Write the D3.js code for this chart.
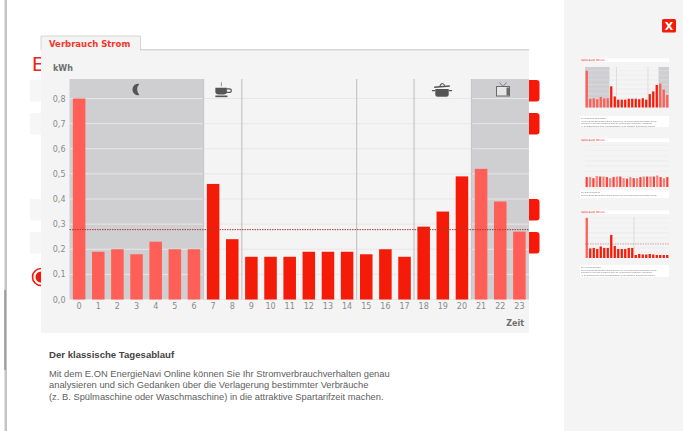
<!DOCTYPE html>
<html lang="de">
<head>
<meta charset="utf-8">
<title>Verbrauch Strom</title>
<script src="https://cdn.jsdelivr.net/npm/d3@7/dist/d3.min.js"></script>
<style>
html,body{margin:0;padding:0;background:#fff;overflow:hidden}
svg{display:block}
text{font-family:"DejaVu Sans",sans-serif}
.copy{font-family:"Liberation Sans",Arial,sans-serif}
</style>
</head>
<body>
<svg id="chart" width="683" height="431"></svg>
<script>
// Hourly electricity use, one typical day
const hours = d3.range(24);
const dayValues = [0.8,0.19,0.2,0.18,0.23,0.2,0.2,0.46,0.24,0.17,0.17,0.17,0.19,0.19,0.19,0.18,0.2,0.17,0.29,0.35,0.49,0.52,0.39,0.27];
const averageValue = 0.278;
const yTicks = [0,0.1,0.2,0.3,0.4,0.5,0.6,0.7,0.8];
const nightHours = [0,1,2,3,4,5,6,21,22,23];
const dividerHours = [7,9,15,18,21];

// Sidebar previews
const flatValues = [0.19,0.19,0.17,0.21,0.2,0.2,0.19,0.17,0.19,0.2,0.2,0.17,0.16,0.19,0.17,0.17,0.19,0.2,0.2,0.2,0.2,0.22,0.19,0.17,0.19];
const weekendValues = [0.8,0.19,0.2,0.18,0.23,0.2,0.2,0.46,0.24,0.18,0.18,0.18,0.2,0.2,0.06,0.08,0.07,0.07,0.08,0.07,0.06,0.06,0.06,0.06];

const headline = "Der klassische Tagesablauf";
const bodyLines = [
  "Mit dem E.ON EnergieNavi Online können Sie Ihr Stromverbrauchverhalten genau",
  "analysieren und sich Gedanken über die Verlagerung bestimmter Verbräuche",
  "(z. B. Spülmaschine oder Waschmaschine) in die attraktive Spartarifzeit machen."
];

const RED = "#f41c08", LIGHT_RED = "#ff5f57", NIGHT = "#cfcfd2", PANEL = "#f4f4f4", GRID = "#e7e7e8";
const isNight = h => nightHours.includes(h);
const svg = d3.select("#chart");

const rect = (p, x, y, w, h, fill, rx) => p.append("rect")
  .attr("x", x).attr("y", y).attr("width", w).attr("height", h).attr("fill", fill).attr("rx", rx || 0);

// Page frame and the sidebar
rect(svg, 4.5, 0, 2.5, 431, "#c4c4c4");
rect(svg, 4.5, 290, 1, 80, "#777");
rect(svg, 564, 0, 119, 431, "#f4f4f4");

// Page content behind the overlay
svg.append("text").attr("x", 32).attr("y", 71).attr("fill", "#f2231a")
  .attr("font-size", 21).style("font-family", "Liberation Sans").text("E");
[80, 113, 199, 232].forEach(y => {
  rect(svg, 30, y, 12, 21.5, "#f6f6f6");
  rect(svg, 520, y, 19.5, 21.5, "#f8180a", 3);
});
svg.append("circle").attr("cx", 41).attr("cy", 277).attr("r", 8.5)
  .attr("fill", "#fff").attr("stroke", "#f01a0a").attr("stroke-width", 1.6);
svg.append("circle").attr("cx", 41).attr("cy", 277).attr("r", 5.5).attr("fill", "#f01a0a");

// Close button
rect(svg, 662, 19, 14, 13.5, "#f41c08", 1.5);
svg.append("text").attr("x", 669).attr("y", 30).attr("text-anchor", "middle")
  .attr("fill", "#fff").attr("font-size", 11).attr("font-weight", 700).text("X");

// Main panel with its tab
rect(svg, 41, 50, 488, 283, PANEL);
rect(svg, 41, 49, 488, 1.5, "#d6d6d6");
svg.append("path").attr("d", "M41 50V36H140.5V50").attr("fill", PANEL).attr("stroke", "#d6d6d6").attr("stroke-width", 1);
rect(svg, 41.5, 48, 98.5, 3, PANEL);
svg.append("text").attr("x", 49).attr("y", 47).attr("fill", "#f5352a")
  .attr("font-size", 8.5).attr("font-weight", 700).text("Verbrauch Strom");

// Draws one hourly bar chart; the large chart and the previews share this
function barChart(parent, box, values, opts) {
  const x = d3.scaleBand().domain(values.map((_, i) => i)).range([box.left, box.right]).paddingInner(0.345).paddingOuter(0.175);
  const y = d3.scaleLinear().domain([0, opts.max]).range([box.bottom, box.bottom - (box.bottom - box.top) * opts.scaleShare]);
  const g = parent.append("g");
  const edge = i => box.left + x.step() * i;

  rect(g, box.left, box.top, box.right - box.left, box.bottom - box.top, opts.plotFill || PANEL);

  (opts.nightBands || []).forEach(([a, b]) => {
    rect(g, edge(a), box.top, edge(b) - edge(a), box.bottom - box.top, NIGHT);
  });

  g.append("g").selectAll("line").data(opts.ticks).join("line")
    .attr("x1", box.left).attr("x2", box.right)
    .attr("y1", d => y(d)).attr("y2", d => y(d))
    .attr("stroke", GRID).attr("stroke-width", opts.gridWidth);

  g.append("g").selectAll("line").data(opts.dividers || []).join("line")
    .attr("x1", d => edge(d)).attr("x2", d => edge(d))
    .attr("y1", box.top).attr("y2", box.bottom)
    .attr("stroke", "#c8c8c8").attr("stroke-width", opts.gridWidth * 1.3);

  g.append("g").selectAll("rect").data(values).join("rect")
    .attr("x", (_, i) => x(i)).attr("width", x.bandwidth())
    .attr("y", d => y(d)).attr("height", d => y(0) - y(d))
    .attr("fill", (d, i) => opts.colour(i));

  if (opts.average !== undefined) {
    g.append("line").attr("x1", box.left).attr("x2", box.right)
      .attr("y1", y(opts.average)).attr("y2", y(opts.average))
      .attr("stroke", "#a83838").attr("stroke-width", opts.gridWidth).attr("stroke-dasharray", "1.5 1");
  }
  return { x, y, g };
}

const nightBands = [[0, 7], [21, 24]];
const box = { left: 69.5, right: 529, top: 79, bottom: 299.5 };
const main = barChart(svg, box, dayValues, {
  max: 0.8, scaleShare: (299.5 - 98.5) / (299.5 - 79), ticks: yTicks,
  nightBands, dividers: dividerHours, gridWidth: 1, average: averageValue,
  colour: h => isNight(h) ? LIGHT_RED : RED
});

// Axes
const yAxis = d3.axisLeft(main.y).tickValues(yTicks).tickSize(0).tickPadding(4)
  .tickFormat(d => d3.format(".1f")(d).replace(".", ","));
svg.append("g").attr("transform", `translate(${box.left},0)`).call(yAxis)
  .call(a => a.select(".domain").remove())
  .call(a => a.selectAll("text").attr("fill", "#8a8a8a").attr("font-size", 8).style("font-family", "DejaVu Sans"));

const xAxis = d3.axisBottom(main.x).tickValues(hours).tickSize(0).tickPadding(4);
svg.append("g").attr("transform", `translate(0,${box.bottom})`).call(xAxis)
  .call(a => a.select(".domain").remove())
  .call(a => a.selectAll("text").attr("fill", "#8a8a8a").attr("font-size", 8).style("font-family", "DejaVu Sans"));

svg.append("text").attr("x", 53).attr("y", 71).attr("fill", "#6f6f6f").attr("font-size", 8).attr("font-weight", 700).text("kWh");
svg.append("text").attr("x", 524).attr("y", 325.5).attr("text-anchor", "end").attr("fill", "#6f6f6f").attr("font-size", 8).attr("font-weight", 700).text("Zeit");

// Time-of-day symbols above the bars
const ICON = "#555";
const iconAt = (cx, cy, k) => svg.append("g").attr("transform", `translate(${cx},${cy}) scale(${k})`);

const moon = iconAt(136, 89.5, 1.08);
moon.append("path").attr("d", "M3 -5.2A5.3 5.3 0 1 0 3 5.2A8 8 0 0 1 3 -5.2Z").attr("fill", ICON);

const cup = iconAt(222.5, 90, 1.1);
cup.append("path").attr("d", "M-6.5 -2H4V1.5Q4 4 1 4H-3.5Q-6.5 4 -6.5 1.5Z").attr("fill", ICON);
cup.append("path").attr("d", "M4 -1H6Q8 -1 8 .6T6 2.2H3.5").attr("fill", "none").attr("stroke", ICON).attr("stroke-width", 1);
cup.append("rect").attr("x", -6.5).attr("y", 5).attr("width", 11).attr("height", 1.5).attr("fill", ICON);
cup.append("path").attr("d", "M-1 -3.5V-7").attr("stroke", "#999").attr("stroke-width", 1);

const pot = iconAt(442, 90, 1.12);
pot.append("path").attr("d", "M-6 -1H6V4Q6 6 4 6H-4Q-6 6 -6 4Z").attr("fill", ICON);
pot.append("path").attr("d", "M-7 -2.5L7 -3.5").attr("stroke", ICON).attr("stroke-width", 1.4);
pot.append("path").attr("d", "M-2 -3.4Q0 -8 2.6 -3.8").attr("fill", "none").attr("stroke", ICON).attr("stroke-width", 1);
pot.append("path").attr("d", "M-6 .5H-9M6 .5H9").attr("stroke", ICON).attr("stroke-width", 1.2);

const tv = iconAt(503, 90, 1);
tv.append("rect").attr("x", -6.5).attr("y", -3.5).attr("width", 13).attr("height", 9.5).attr("fill", "#e6e6e6").attr("stroke", "#6a6a6a").attr("stroke-width", 1);
tv.append("rect").attr("x", 3.5).attr("y", -2.5).attr("width", 2.5).attr("height", 8).attr("fill", "#6a6a6a");
tv.append("path").attr("d", "M-3.5 -7.5L0 -3.5L3.5 -7.5").attr("fill", "none").attr("stroke", "#6a6a6a").attr("stroke-width", .8);

// Caption under the chart
const copy = svg.append("g").attr("class", "copy").attr("fill", "#606060");
copy.append("text").attr("class", "copy").attr("x", 49).attr("y", 358).attr("font-size", 9.6).attr("font-weight", 700).attr("fill", "#444").text(headline);
copy.selectAll("text.line").data(bodyLines).join("text")
  .attr("class", "line copy").attr("x", 49).attr("y", (_, i) => 377 + i * 11.3)
  .attr("font-size", 9.36).text(d => d);

// Sidebar previews, softened since they are only small stand-ins
const defs = svg.append("defs");
defs.append("filter").attr("id", "soft").append("feGaussianBlur").attr("stdDeviation", 0.6);
const side = svg.append("g").attr("filter", "url(#soft)");

const previewTab = (y, w) => {
  rect(side, 580, y, 89, 3.5, "#fff");
  rect(side, 580, y, w, 3.5, PANEL);
  side.append("text").attr("x", 581).attr("y", y + 2.8).attr("font-size", 2.8).attr("fill", "#f4281c").text("Verbrauch Strom");
};
const previewCopy = (y, h, lines) => {
  rect(side, 580, y, 89, h, "#fff");
  lines.forEach((t, i) => side.append("text").attr("class", "copy").attr("x", 581).attr("y", y + 3 + i * 2.6)
    .attr("font-size", 2.1).attr("fill", "#777").text(t));
};

previewTab(58.5, 17);
barChart(side, { left: 585, right: 669, top: 67, bottom: 107.5 }, dayValues, {
  max: 0.8, scaleShare: 0.91, ticks: yTicks.filter(t => t > 0), nightBands, dividers: [9, 18], gridWidth: 0.4,
  colour: h => isNight(h) ? LIGHT_RED : RED
});
previewCopy(116, 11, [headline].concat(bodyLines));

previewTab(138.5, 17);
barChart(side, { left: 585, right: 669, top: 143, bottom: 187 }, flatValues, {
  max: 0.8, scaleShare: 0.95, ticks: yTicks.filter(t => t > 0), gridWidth: 0.4,
  colour: i => i % 2 ? "#ff7f78" : "#f8433a"
});
previewCopy(190, 8, ["Der Dauerverbrauch", bodyLines[0]]);

previewTab(210.5, 17);
barChart(side, { left: 585, right: 669, top: 217, bottom: 258 }, weekendValues, {
  max: 0.8, scaleShare: 0.98, ticks: yTicks.filter(t => t > 0), dividers: [14], gridWidth: 0.4, average: averageValue,
  colour: i => i === 0 ? LIGHT_RED : RED
});
previewCopy(265, 12, ["Der Abwesenheitstag"].concat(bodyLines));
</script>
</body>
</html>
